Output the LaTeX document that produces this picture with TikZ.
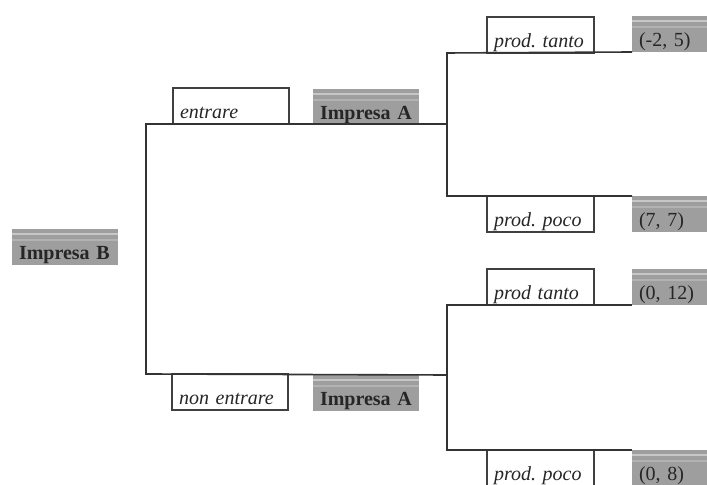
\documentclass[tikz,border=0pt]{standalone}
\usepackage{fontspec}
\setmainfont{Liberation Serif}
\begin{document}
\frenchspacing
\begin{tikzpicture}[x=0.5pt, y=-0.5pt,
        every node/.style={outer sep=0pt, inner xsep=3.5pt, inner ysep=1pt, text height=14.5pt, text depth=1.5pt, align=left, text=black!85},
        ramo/.style={draw=black!80, line width=0.8pt},
        mossa/.style={draw=black!75, line width=0.6pt, fill=white, text width=#1, font=\fontsize{10}{12}\selectfont\itshape\frenchspacing},
        mossa/.default=51pt,
        strisce/.style={path picture={
            \draw[white!78!black, line width=1pt] ([yshift=-2.5pt]path picture bounding box.north west) -- ([yshift=-2.5pt]path picture bounding box.north east);
            \draw[white!70!black, line width=0.8pt] ([yshift=-5.5pt]path picture bounding box.north west) -- ([yshift=-5.5pt]path picture bounding box.north east);}},
        giocatore/.style={strisce, fill=black!38, text width=46pt, font=\fontsize{10}{12}\selectfont\bfseries},
        payoff/.style={strisce, fill=black!38, text width=30.5pt, font=\fontsize{10}{12}\selectfont}]
    \useasboundingbox (0,0) rectangle (707,485);
    \coordinate (r1) at (146,124);
    \coordinate (r2) at (146,374);
    \coordinate (s1) at (447,124);
    \coordinate (s2) at (447,375);
    \coordinate (t1) at (447,53);
    \coordinate (t2) at (447,196);
    \coordinate (t3) at (447,305);
    \coordinate (t4) at (447,450);
    \node[giocatore, anchor=south west] (b) at (12,265) {Impresa B};
    \node[mossa, anchor=south west] (e1) at (173,124) {entrare};
    \node[giocatore, anchor=south west] (a1) at (313,125) {Impresa A};
    \node[mossa, anchor=north west] (e2) at (172,374) {non entrare};
    \node[giocatore, anchor=north west] (a2) at (313,375) {Impresa A};
    \node[mossa=46.5pt, anchor=south west] (m1) at (487,53) {prod. tanto};
    \node[payoff, anchor=south west] (p1) at (632,52) {(-2, 5)};
    \node[mossa=46.5pt, anchor=north west] (m2) at (487,196) {prod. poco};
    \node[payoff, anchor=north west] (p2) at (632,196) {(7, 7)};
    \node[mossa=46.5pt, anchor=south west] (m3) at (487,305) {prod tanto};
    \node[payoff, anchor=south west] (p3) at (632,305) {(0, 12)};
    \node[mossa=46.5pt, anchor=north west] (m4) at (487,450) {prod. poco};
    \node[payoff, anchor=north west] (p4) at (632,450) {(0, 8)};
    \draw[ramo] (s1) -- (r1) -- (r2) -- (s2);
    \draw[ramo] (p1.south west) -- (t1) -- (t2) -- (p2.north west);
    \draw[ramo] (p3.south west) -- (t3) -- (t4) -- (p4.north west);
\end{tikzpicture}
\end{document}
